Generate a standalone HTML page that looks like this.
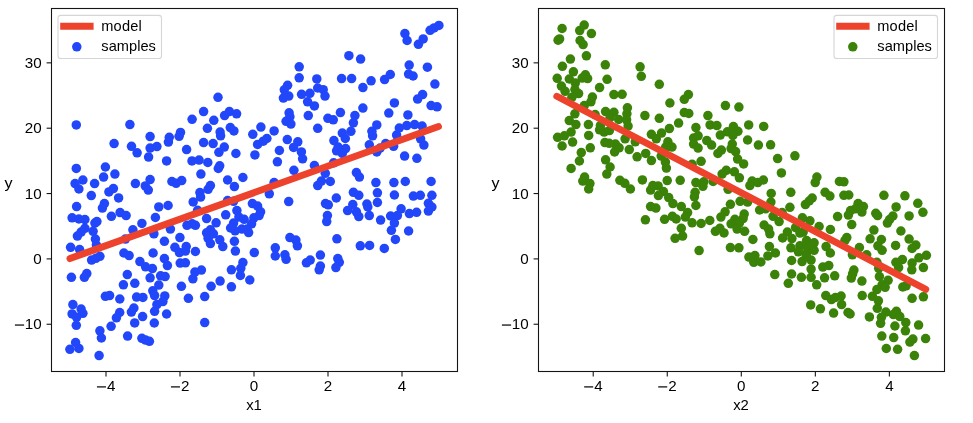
<!DOCTYPE html>
<html><head><meta charset="utf-8"><title>plot</title>
<style>html,body{margin:0;padding:0;background:#fff;overflow:hidden;}svg{display:block;will-change:transform;}text{font-family:"Liberation Sans",sans-serif;font-size:14.6px;fill:#000;}</style>
</head><body>
<svg width="973" height="423" viewBox="0 0 973 423">
<rect x="0" y="0" width="973" height="423" fill="#ffffff"/>
<clipPath id="cl"><rect x="51.5" y="8.5" width="406.0" height="363.0"/></clipPath>
<g clip-path="url(#cl)">
<g fill="#2247fa">
<circle cx="438.9" cy="25.4" r="4.75"/>
<circle cx="434.1" cy="27.9" r="4.75"/>
<circle cx="430.1" cy="30.3" r="4.75"/>
<circle cx="404.9" cy="33.6" r="4.75"/>
<circle cx="407.1" cy="40.5" r="4.75"/>
<circle cx="423.2" cy="38.9" r="4.75"/>
<circle cx="418.4" cy="44.3" r="4.75"/>
<circle cx="348.9" cy="55.7" r="4.75"/>
<circle cx="360.6" cy="59.1" r="4.75"/>
<circle cx="409.2" cy="65.1" r="4.75"/>
<circle cx="427.4" cy="67.2" r="4.75"/>
<circle cx="299.2" cy="66.8" r="4.75"/>
<circle cx="299.2" cy="77.8" r="4.75"/>
<circle cx="316.8" cy="78.9" r="4.75"/>
<circle cx="287.6" cy="85.3" r="4.75"/>
<circle cx="284.3" cy="89.8" r="4.75"/>
<circle cx="288.8" cy="96.1" r="4.75"/>
<circle cx="283.4" cy="98.1" r="4.75"/>
<circle cx="301.6" cy="94.3" r="4.75"/>
<circle cx="309.9" cy="93.3" r="4.75"/>
<circle cx="317.7" cy="88.0" r="4.75"/>
<circle cx="323.2" cy="89.7" r="4.75"/>
<circle cx="325.0" cy="96.1" r="4.75"/>
<circle cx="307.6" cy="101.8" r="4.75"/>
<circle cx="314.4" cy="105.9" r="4.75"/>
<circle cx="218.0" cy="97.3" r="4.75"/>
<circle cx="203.6" cy="111.6" r="4.75"/>
<circle cx="229.4" cy="111.6" r="4.75"/>
<circle cx="224.6" cy="115.6" r="4.75"/>
<circle cx="236.6" cy="113.8" r="4.75"/>
<circle cx="192.1" cy="119.3" r="4.75"/>
<circle cx="213.8" cy="120.3" r="4.75"/>
<circle cx="289.1" cy="112.8" r="4.75"/>
<circle cx="289.9" cy="116.8" r="4.75"/>
<circle cx="286.1" cy="121.3" r="4.75"/>
<circle cx="308.3" cy="115.6" r="4.75"/>
<circle cx="327.9" cy="118.3" r="4.75"/>
<circle cx="408.6" cy="74.1" r="4.75"/>
<circle cx="413.1" cy="76.0" r="4.75"/>
<circle cx="390.3" cy="74.5" r="4.75"/>
<circle cx="384.6" cy="79.6" r="4.75"/>
<circle cx="341.6" cy="78.6" r="4.75"/>
<circle cx="351.6" cy="78.6" r="4.75"/>
<circle cx="371.1" cy="80.8" r="4.75"/>
<circle cx="362.9" cy="87.6" r="4.75"/>
<circle cx="434.9" cy="84.1" r="4.75"/>
<circle cx="422.6" cy="94.6" r="4.75"/>
<circle cx="417.6" cy="99.1" r="4.75"/>
<circle cx="394.4" cy="102.9" r="4.75"/>
<circle cx="431.1" cy="105.6" r="4.75"/>
<circle cx="437.1" cy="106.8" r="4.75"/>
<circle cx="362.9" cy="108.1" r="4.75"/>
<circle cx="340.4" cy="112.6" r="4.75"/>
<circle cx="388.8" cy="113.1" r="4.75"/>
<circle cx="407.9" cy="114.9" r="4.75"/>
<circle cx="354.9" cy="115.6" r="4.75"/>
<circle cx="333.3" cy="119.8" r="4.75"/>
<circle cx="353.4" cy="122.8" r="4.75"/>
<circle cx="76.3" cy="124.9" r="4.75"/>
<circle cx="129.9" cy="124.6" r="4.75"/>
<circle cx="150.1" cy="136.6" r="4.75"/>
<circle cx="180.5" cy="132.4" r="4.75"/>
<circle cx="179.1" cy="136.3" r="4.75"/>
<circle cx="169.3" cy="137.3" r="4.75"/>
<circle cx="168.4" cy="142.1" r="4.75"/>
<circle cx="114.1" cy="143.6" r="4.75"/>
<circle cx="131.5" cy="146.3" r="4.75"/>
<circle cx="137.1" cy="152.8" r="4.75"/>
<circle cx="150.1" cy="148.1" r="4.75"/>
<circle cx="156.9" cy="146.6" r="4.75"/>
<circle cx="148.6" cy="157.1" r="4.75"/>
<circle cx="186.6" cy="149.6" r="4.75"/>
<circle cx="166.6" cy="160.9" r="4.75"/>
<circle cx="192.0" cy="160.9" r="4.75"/>
<circle cx="76.3" cy="168.4" r="4.75"/>
<circle cx="105.4" cy="167.0" r="4.75"/>
<circle cx="114.9" cy="174.1" r="4.75"/>
<circle cx="103.6" cy="177.1" r="4.75"/>
<circle cx="290.9" cy="124.1" r="4.75"/>
<circle cx="317.7" cy="128.3" r="4.75"/>
<circle cx="207.4" cy="128.3" r="4.75"/>
<circle cx="220.1" cy="132.1" r="4.75"/>
<circle cx="220.6" cy="135.8" r="4.75"/>
<circle cx="230.3" cy="127.6" r="4.75"/>
<circle cx="233.9" cy="130.9" r="4.75"/>
<circle cx="260.9" cy="127.1" r="4.75"/>
<circle cx="252.8" cy="134.3" r="4.75"/>
<circle cx="274.1" cy="130.9" r="4.75"/>
<circle cx="266.9" cy="138.5" r="4.75"/>
<circle cx="263.3" cy="141.2" r="4.75"/>
<circle cx="257.6" cy="144.4" r="4.75"/>
<circle cx="287.3" cy="139.6" r="4.75"/>
<circle cx="297.8" cy="141.8" r="4.75"/>
<circle cx="293.6" cy="147.4" r="4.75"/>
<circle cx="301.4" cy="151.9" r="4.75"/>
<circle cx="302.6" cy="158.8" r="4.75"/>
<circle cx="203.6" cy="142.6" r="4.75"/>
<circle cx="213.1" cy="143.6" r="4.75"/>
<circle cx="224.3" cy="147.1" r="4.75"/>
<circle cx="218.9" cy="152.3" r="4.75"/>
<circle cx="235.9" cy="153.5" r="4.75"/>
<circle cx="254.9" cy="154.9" r="4.75"/>
<circle cx="279.4" cy="150.5" r="4.75"/>
<circle cx="277.4" cy="161.8" r="4.75"/>
<circle cx="199.1" cy="160.1" r="4.75"/>
<circle cx="207.8" cy="162.5" r="4.75"/>
<circle cx="219.7" cy="165.8" r="4.75"/>
<circle cx="218.3" cy="168.5" r="4.75"/>
<circle cx="200.9" cy="174.1" r="4.75"/>
<circle cx="242.9" cy="177.5" r="4.75"/>
<circle cx="293.9" cy="170.3" r="4.75"/>
<circle cx="314.4" cy="165.5" r="4.75"/>
<circle cx="325.3" cy="173.3" r="4.75"/>
<circle cx="376.8" cy="124.9" r="4.75"/>
<circle cx="371.9" cy="131.3" r="4.75"/>
<circle cx="372.6" cy="135.8" r="4.75"/>
<circle cx="350.9" cy="131.3" r="4.75"/>
<circle cx="342.3" cy="133.1" r="4.75"/>
<circle cx="345.3" cy="138.5" r="4.75"/>
<circle cx="333.9" cy="140.6" r="4.75"/>
<circle cx="338.1" cy="147.1" r="4.75"/>
<circle cx="336.6" cy="150.8" r="4.75"/>
<circle cx="345.6" cy="148.6" r="4.75"/>
<circle cx="342.3" cy="153.5" r="4.75"/>
<circle cx="369.3" cy="144.8" r="4.75"/>
<circle cx="385.7" cy="143.6" r="4.75"/>
<circle cx="380.1" cy="148.1" r="4.75"/>
<circle cx="376.8" cy="152.0" r="4.75"/>
<circle cx="393.6" cy="146.3" r="4.75"/>
<circle cx="396.6" cy="135.1" r="4.75"/>
<circle cx="399.3" cy="128.0" r="4.75"/>
<circle cx="406.8" cy="125.6" r="4.75"/>
<circle cx="414.6" cy="124.6" r="4.75"/>
<circle cx="422.1" cy="126.1" r="4.75"/>
<circle cx="420.6" cy="138.8" r="4.75"/>
<circle cx="423.9" cy="145.1" r="4.75"/>
<circle cx="404.6" cy="156.1" r="4.75"/>
<circle cx="416.9" cy="158.3" r="4.75"/>
<circle cx="333.6" cy="162.8" r="4.75"/>
<circle cx="356.4" cy="172.6" r="4.75"/>
<circle cx="359.4" cy="177.1" r="4.75"/>
<circle cx="82.9" cy="180.0" r="4.75"/>
<circle cx="75.1" cy="183.6" r="4.75"/>
<circle cx="78.9" cy="189.0" r="4.75"/>
<circle cx="94.6" cy="183.6" r="4.75"/>
<circle cx="135.4" cy="183.6" r="4.75"/>
<circle cx="150.1" cy="179.6" r="4.75"/>
<circle cx="145.3" cy="185.9" r="4.75"/>
<circle cx="148.3" cy="190.1" r="4.75"/>
<circle cx="171.9" cy="181.5" r="4.75"/>
<circle cx="176.1" cy="183.3" r="4.75"/>
<circle cx="181.7" cy="180.6" r="4.75"/>
<circle cx="113.4" cy="188.6" r="4.75"/>
<circle cx="108.9" cy="191.9" r="4.75"/>
<circle cx="91.3" cy="195.6" r="4.75"/>
<circle cx="118.6" cy="197.9" r="4.75"/>
<circle cx="104.4" cy="203.6" r="4.75"/>
<circle cx="102.4" cy="208.1" r="4.75"/>
<circle cx="76.6" cy="206.6" r="4.75"/>
<circle cx="158.8" cy="206.9" r="4.75"/>
<circle cx="168.1" cy="205.5" r="4.75"/>
<circle cx="193.2" cy="201.9" r="4.75"/>
<circle cx="120.1" cy="212.6" r="4.75"/>
<circle cx="126.1" cy="215.6" r="4.75"/>
<circle cx="111.4" cy="216.3" r="4.75"/>
<circle cx="155.4" cy="217.5" r="4.75"/>
<circle cx="141.9" cy="223.4" r="4.75"/>
<circle cx="72.1" cy="217.8" r="4.75"/>
<circle cx="78.9" cy="219.0" r="4.75"/>
<circle cx="84.9" cy="219.6" r="4.75"/>
<circle cx="96.9" cy="221.6" r="4.75"/>
<circle cx="94.9" cy="223.1" r="4.75"/>
<circle cx="84.9" cy="228.3" r="4.75"/>
<circle cx="81.1" cy="232.1" r="4.75"/>
<circle cx="93.1" cy="231.3" r="4.75"/>
<circle cx="132.9" cy="229.8" r="4.75"/>
<circle cx="170.4" cy="229.1" r="4.75"/>
<circle cx="187.0" cy="225.3" r="4.75"/>
<circle cx="192.2" cy="223.8" r="4.75"/>
<circle cx="227.6" cy="180.0" r="4.75"/>
<circle cx="234.4" cy="186.6" r="4.75"/>
<circle cx="210.4" cy="185.6" r="4.75"/>
<circle cx="208.1" cy="189.3" r="4.75"/>
<circle cx="199.9" cy="192.6" r="4.75"/>
<circle cx="200.6" cy="197.1" r="4.75"/>
<circle cx="274.1" cy="182.6" r="4.75"/>
<circle cx="269.3" cy="193.8" r="4.75"/>
<circle cx="288.7" cy="201.6" r="4.75"/>
<circle cx="227.6" cy="200.6" r="4.75"/>
<circle cx="233.6" cy="201.3" r="4.75"/>
<circle cx="197.6" cy="210.3" r="4.75"/>
<circle cx="252.4" cy="203.6" r="4.75"/>
<circle cx="257.6" cy="206.1" r="4.75"/>
<circle cx="260.6" cy="211.8" r="4.75"/>
<circle cx="259.1" cy="215.6" r="4.75"/>
<circle cx="253.9" cy="217.8" r="4.75"/>
<circle cx="236.9" cy="210.6" r="4.75"/>
<circle cx="225.7" cy="214.8" r="4.75"/>
<circle cx="238.9" cy="217.1" r="4.75"/>
<circle cx="244.1" cy="219.3" r="4.75"/>
<circle cx="233.6" cy="223.1" r="4.75"/>
<circle cx="230.6" cy="228.0" r="4.75"/>
<circle cx="251.6" cy="223.8" r="4.75"/>
<circle cx="247.1" cy="229.1" r="4.75"/>
<circle cx="241.9" cy="229.1" r="4.75"/>
<circle cx="206.6" cy="218.6" r="4.75"/>
<circle cx="216.1" cy="222.8" r="4.75"/>
<circle cx="195.4" cy="225.3" r="4.75"/>
<circle cx="210.4" cy="229.8" r="4.75"/>
<circle cx="206.6" cy="232.8" r="4.75"/>
<circle cx="317.7" cy="185.6" r="4.75"/>
<circle cx="321.4" cy="181.1" r="4.75"/>
<circle cx="325.5" cy="203.6" r="4.75"/>
<circle cx="327.4" cy="215.6" r="4.75"/>
<circle cx="326.7" cy="221.6" r="4.75"/>
<circle cx="330.3" cy="181.5" r="4.75"/>
<circle cx="375.9" cy="182.6" r="4.75"/>
<circle cx="393.9" cy="182.6" r="4.75"/>
<circle cx="405.3" cy="181.5" r="4.75"/>
<circle cx="431.1" cy="181.5" r="4.75"/>
<circle cx="336.3" cy="198.0" r="4.75"/>
<circle cx="353.4" cy="192.3" r="4.75"/>
<circle cx="358.8" cy="195.3" r="4.75"/>
<circle cx="377.4" cy="192.8" r="4.75"/>
<circle cx="394.4" cy="195.0" r="4.75"/>
<circle cx="413.4" cy="196.1" r="4.75"/>
<circle cx="420.3" cy="195.3" r="4.75"/>
<circle cx="431.9" cy="195.3" r="4.75"/>
<circle cx="428.4" cy="203.3" r="4.75"/>
<circle cx="431.9" cy="207.0" r="4.75"/>
<circle cx="428.4" cy="211.1" r="4.75"/>
<circle cx="377.4" cy="202.5" r="4.75"/>
<circle cx="366.9" cy="204.0" r="4.75"/>
<circle cx="367.8" cy="207.0" r="4.75"/>
<circle cx="352.8" cy="204.6" r="4.75"/>
<circle cx="347.6" cy="210.6" r="4.75"/>
<circle cx="356.4" cy="211.8" r="4.75"/>
<circle cx="358.8" cy="216.6" r="4.75"/>
<circle cx="369.3" cy="215.6" r="4.75"/>
<circle cx="380.6" cy="220.1" r="4.75"/>
<circle cx="401.1" cy="208.8" r="4.75"/>
<circle cx="409.4" cy="213.6" r="4.75"/>
<circle cx="416.6" cy="212.3" r="4.75"/>
<circle cx="390.6" cy="216.0" r="4.75"/>
<circle cx="397.4" cy="215.6" r="4.75"/>
<circle cx="394.4" cy="223.1" r="4.75"/>
<circle cx="391.4" cy="230.3" r="4.75"/>
<circle cx="408.6" cy="231.0" r="4.75"/>
<circle cx="77.4" cy="236.1" r="4.75"/>
<circle cx="95.4" cy="239.1" r="4.75"/>
<circle cx="70.6" cy="247.3" r="4.75"/>
<circle cx="79.6" cy="249.6" r="4.75"/>
<circle cx="96.4" cy="245.1" r="4.75"/>
<circle cx="99.9" cy="256.3" r="4.75"/>
<circle cx="91.6" cy="260.1" r="4.75"/>
<circle cx="71.4" cy="277.3" r="4.75"/>
<circle cx="86.8" cy="273.6" r="4.75"/>
<circle cx="84.4" cy="277.3" r="4.75"/>
<circle cx="125.4" cy="239.1" r="4.75"/>
<circle cx="153.9" cy="233.8" r="4.75"/>
<circle cx="179.9" cy="237.6" r="4.75"/>
<circle cx="164.4" cy="241.3" r="4.75"/>
<circle cx="174.9" cy="247.3" r="4.75"/>
<circle cx="186.2" cy="246.6" r="4.75"/>
<circle cx="179.4" cy="252.6" r="4.75"/>
<circle cx="185.4" cy="251.1" r="4.75"/>
<circle cx="153.1" cy="253.0" r="4.75"/>
<circle cx="123.9" cy="253.0" r="4.75"/>
<circle cx="129.1" cy="255.6" r="4.75"/>
<circle cx="139.9" cy="261.6" r="4.75"/>
<circle cx="145.6" cy="266.8" r="4.75"/>
<circle cx="152.4" cy="268.6" r="4.75"/>
<circle cx="164.4" cy="258.6" r="4.75"/>
<circle cx="167.4" cy="265.6" r="4.75"/>
<circle cx="180.2" cy="263.1" r="4.75"/>
<circle cx="185.4" cy="262.8" r="4.75"/>
<circle cx="127.3" cy="274.6" r="4.75"/>
<circle cx="150.1" cy="277.8" r="4.75"/>
<circle cx="160.6" cy="275.8" r="4.75"/>
<circle cx="165.1" cy="276.6" r="4.75"/>
<circle cx="123.4" cy="284.8" r="4.75"/>
<circle cx="134.8" cy="283.3" r="4.75"/>
<circle cx="158.8" cy="285.1" r="4.75"/>
<circle cx="181.4" cy="286.3" r="4.75"/>
<circle cx="192.9" cy="278.8" r="4.75"/>
<circle cx="208.1" cy="238.3" r="4.75"/>
<circle cx="210.4" cy="243.6" r="4.75"/>
<circle cx="213.4" cy="233.8" r="4.75"/>
<circle cx="219.8" cy="239.8" r="4.75"/>
<circle cx="222.8" cy="246.6" r="4.75"/>
<circle cx="234.4" cy="241.3" r="4.75"/>
<circle cx="235.4" cy="251.1" r="4.75"/>
<circle cx="254.3" cy="252.6" r="4.75"/>
<circle cx="195.4" cy="251.5" r="4.75"/>
<circle cx="201.4" cy="270.1" r="4.75"/>
<circle cx="194.9" cy="272.1" r="4.75"/>
<circle cx="242.9" cy="262.6" r="4.75"/>
<circle cx="240.8" cy="268.3" r="4.75"/>
<circle cx="231.4" cy="269.8" r="4.75"/>
<circle cx="240.4" cy="275.5" r="4.75"/>
<circle cx="249.8" cy="280.0" r="4.75"/>
<circle cx="220.1" cy="281.1" r="4.75"/>
<circle cx="211.1" cy="286.3" r="4.75"/>
<circle cx="231.4" cy="286.8" r="4.75"/>
<circle cx="289.9" cy="237.6" r="4.75"/>
<circle cx="295.9" cy="240.1" r="4.75"/>
<circle cx="297.4" cy="245.8" r="4.75"/>
<circle cx="275.3" cy="247.8" r="4.75"/>
<circle cx="275.3" cy="256.0" r="4.75"/>
<circle cx="284.9" cy="254.8" r="4.75"/>
<circle cx="286.1" cy="259.3" r="4.75"/>
<circle cx="320.4" cy="255.1" r="4.75"/>
<circle cx="310.2" cy="260.1" r="4.75"/>
<circle cx="306.4" cy="262.8" r="4.75"/>
<circle cx="320.4" cy="266.1" r="4.75"/>
<circle cx="319.2" cy="269.8" r="4.75"/>
<circle cx="248.6" cy="232.6" r="4.75"/>
<circle cx="235.1" cy="230.8" r="4.75"/>
<circle cx="336.9" cy="238.8" r="4.75"/>
<circle cx="395.4" cy="239.4" r="4.75"/>
<circle cx="360.3" cy="245.8" r="4.75"/>
<circle cx="369.6" cy="245.4" r="4.75"/>
<circle cx="384.3" cy="248.4" r="4.75"/>
<circle cx="337.8" cy="258.6" r="4.75"/>
<circle cx="339.3" cy="262.3" r="4.75"/>
<circle cx="335.9" cy="267.6" r="4.75"/>
<circle cx="152.8" cy="290.8" r="4.75"/>
<circle cx="154.6" cy="295.6" r="4.75"/>
<circle cx="164.8" cy="295.9" r="4.75"/>
<circle cx="162.9" cy="301.6" r="4.75"/>
<circle cx="156.9" cy="304.6" r="4.75"/>
<circle cx="154.6" cy="311.3" r="4.75"/>
<circle cx="166.6" cy="314.0" r="4.75"/>
<circle cx="154.3" cy="323.0" r="4.75"/>
<circle cx="188.4" cy="298.3" r="4.75"/>
<circle cx="105.4" cy="296.3" r="4.75"/>
<circle cx="109.6" cy="295.6" r="4.75"/>
<circle cx="119.8" cy="299.0" r="4.75"/>
<circle cx="136.6" cy="297.1" r="4.75"/>
<circle cx="142.9" cy="297.4" r="4.75"/>
<circle cx="133.9" cy="308.0" r="4.75"/>
<circle cx="131.4" cy="312.1" r="4.75"/>
<circle cx="142.6" cy="316.6" r="4.75"/>
<circle cx="134.7" cy="322.9" r="4.75"/>
<circle cx="119.7" cy="312.5" r="4.75"/>
<circle cx="116.4" cy="317.8" r="4.75"/>
<circle cx="111.1" cy="326.3" r="4.75"/>
<circle cx="99.9" cy="330.8" r="4.75"/>
<circle cx="101.4" cy="338.0" r="4.75"/>
<circle cx="72.9" cy="304.6" r="4.75"/>
<circle cx="81.1" cy="309.1" r="4.75"/>
<circle cx="82.9" cy="313.3" r="4.75"/>
<circle cx="72.1" cy="313.9" r="4.75"/>
<circle cx="76.6" cy="317.3" r="4.75"/>
<circle cx="76.3" cy="325.3" r="4.75"/>
<circle cx="127.6" cy="336.1" r="4.75"/>
<circle cx="141.9" cy="338.3" r="4.75"/>
<circle cx="149.4" cy="341.3" r="4.75"/>
<circle cx="75.6" cy="342.5" r="4.75"/>
<circle cx="204.7" cy="296.6" r="4.75"/>
<circle cx="204.7" cy="322.6" r="4.75"/>
<circle cx="69.9" cy="349.3" r="4.75"/>
<circle cx="78.9" cy="348.4" r="4.75"/>
<circle cx="99.1" cy="355.6" r="4.75"/>
<circle cx="145.6" cy="340.1" r="4.75"/>
<circle cx="328.3" cy="204.8" r="4.75"/>
<circle cx="95.9" cy="258.3" r="4.75"/>
</g>
<line x1="69.95" y1="258.60" x2="438.50" y2="126.60" stroke="#ed432d" stroke-width="6.9" stroke-linecap="round"/>
</g>
<g stroke="#151515" stroke-width="1.1">
<line x1="106.00" y1="371.5" x2="106.00" y2="376.4"/>
<line x1="180.00" y1="371.5" x2="180.00" y2="376.4"/>
<line x1="254.00" y1="371.5" x2="254.00" y2="376.4"/>
<line x1="328.00" y1="371.5" x2="328.00" y2="376.4"/>
<line x1="402.00" y1="371.5" x2="402.00" y2="376.4"/>
<line x1="46.6" y1="324.25" x2="51.5" y2="324.25"/>
<line x1="46.6" y1="258.90" x2="51.5" y2="258.90"/>
<line x1="46.6" y1="193.55" x2="51.5" y2="193.55"/>
<line x1="46.6" y1="128.20" x2="51.5" y2="128.20"/>
<line x1="46.6" y1="62.85" x2="51.5" y2="62.85"/>
</g>
<rect x="51.5" y="8.5" width="406.0" height="363.0" fill="none" stroke="#151515" stroke-width="1.1"/>
<rect x="96.95" y="386.30" width="9.00" height="1.2" fill="#000"/>
<text transform="translate(107.00,391.30) scale(1.04,1)" text-anchor="start">4</text>
<rect x="170.95" y="386.30" width="9.00" height="1.2" fill="#000"/>
<text transform="translate(181.00,391.30) scale(1.04,1)" text-anchor="start">2</text>
<text transform="translate(254.00,391.30) scale(1.04,1)" text-anchor="middle">0</text>
<text transform="translate(328.00,391.30) scale(1.04,1)" text-anchor="middle">2</text>
<text transform="translate(402.00,391.30) scale(1.04,1)" text-anchor="middle">4</text>
<rect x="14.90" y="324.45" width="9.20" height="1.2" fill="#000"/>
<text transform="translate(41.70,329.45) scale(1.04,1)" text-anchor="end">10</text>
<text transform="translate(41.70,264.10) scale(1.04,1)" text-anchor="end">0</text>
<text transform="translate(41.70,198.75) scale(1.04,1)" text-anchor="end">10</text>
<text transform="translate(41.70,133.40) scale(1.04,1)" text-anchor="end">20</text>
<text transform="translate(41.70,68.05) scale(1.04,1)" text-anchor="end">30</text>
<rect x="58.0" y="15.4" width="103.5" height="43.1" rx="2.8" ry="2.8" fill="#fff" fill-opacity="0.8" stroke="#cccccc" stroke-opacity="0.8" stroke-width="1.1"/>
<line x1="60.2" y1="26.2" x2="93.6" y2="26.2" stroke="#ed432d" stroke-width="6.9"/>
<circle cx="76.8" cy="46.85" r="4.75" fill="#2247fa"/>
<text x="101.3" y="31.1" textLength="40.4" lengthAdjust="spacing">model</text>
<text x="101.3" y="50.9" textLength="54.6" lengthAdjust="spacing">samples</text>
<clipPath id="cr"><rect x="538.5" y="8.5" width="406.0" height="363.0"/></clipPath>
<g clip-path="url(#cr)">
<g fill="#3a8208">
<circle cx="562.1" cy="28.5" r="4.75"/>
<circle cx="559.6" cy="38.9" r="4.75"/>
<circle cx="558.1" cy="40.2" r="4.75"/>
<circle cx="584.2" cy="25.1" r="4.75"/>
<circle cx="579.7" cy="30.6" r="4.75"/>
<circle cx="591.4" cy="33.6" r="4.75"/>
<circle cx="580.1" cy="40.5" r="4.75"/>
<circle cx="583.1" cy="44.6" r="4.75"/>
<circle cx="586.4" cy="55.8" r="4.75"/>
<circle cx="570.4" cy="59.1" r="4.75"/>
<circle cx="562.4" cy="66.3" r="4.75"/>
<circle cx="605.3" cy="64.8" r="4.75"/>
<circle cx="640.1" cy="66.8" r="4.75"/>
<circle cx="573.4" cy="71.8" r="4.75"/>
<circle cx="557.2" cy="78.3" r="4.75"/>
<circle cx="569.3" cy="79.0" r="4.75"/>
<circle cx="585.4" cy="74.8" r="4.75"/>
<circle cx="587.6" cy="78.6" r="4.75"/>
<circle cx="582.2" cy="78.1" r="4.75"/>
<circle cx="607.1" cy="79.3" r="4.75"/>
<circle cx="641.3" cy="76.3" r="4.75"/>
<circle cx="659.3" cy="84.3" r="4.75"/>
<circle cx="599.6" cy="87.6" r="4.75"/>
<circle cx="561.4" cy="86.1" r="4.75"/>
<circle cx="565.1" cy="91.3" r="4.75"/>
<circle cx="575.3" cy="83.1" r="4.75"/>
<circle cx="574.9" cy="89.5" r="4.75"/>
<circle cx="578.6" cy="93.6" r="4.75"/>
<circle cx="571.9" cy="97.3" r="4.75"/>
<circle cx="613.9" cy="94.6" r="4.75"/>
<circle cx="622.1" cy="94.3" r="4.75"/>
<circle cx="592.4" cy="97.0" r="4.75"/>
<circle cx="590.9" cy="101.8" r="4.75"/>
<circle cx="584.3" cy="105.6" r="4.75"/>
<circle cx="669.9" cy="103.0" r="4.75"/>
<circle cx="574.9" cy="113.8" r="4.75"/>
<circle cx="569.3" cy="120.6" r="4.75"/>
<circle cx="595.1" cy="114.6" r="4.75"/>
<circle cx="605.6" cy="111.6" r="4.75"/>
<circle cx="613.9" cy="112.3" r="4.75"/>
<circle cx="610.1" cy="117.6" r="4.75"/>
<circle cx="618.7" cy="119.5" r="4.75"/>
<circle cx="627.4" cy="107.8" r="4.75"/>
<circle cx="626.9" cy="113.8" r="4.75"/>
<circle cx="626.6" cy="119.8" r="4.75"/>
<circle cx="644.9" cy="115.6" r="4.75"/>
<circle cx="659.3" cy="118.3" r="4.75"/>
<circle cx="688.4" cy="94.6" r="4.75"/>
<circle cx="684.3" cy="99.3" r="4.75"/>
<circle cx="725.4" cy="105.6" r="4.75"/>
<circle cx="738.9" cy="107.1" r="4.75"/>
<circle cx="684.3" cy="112.6" r="4.75"/>
<circle cx="688.8" cy="113.5" r="4.75"/>
<circle cx="707.9" cy="115.6" r="4.75"/>
<circle cx="678.6" cy="123.1" r="4.75"/>
<circle cx="575.9" cy="124.6" r="4.75"/>
<circle cx="588.4" cy="124.6" r="4.75"/>
<circle cx="571.1" cy="132.1" r="4.75"/>
<circle cx="557.6" cy="137.3" r="4.75"/>
<circle cx="564.4" cy="135.8" r="4.75"/>
<circle cx="572.6" cy="142.1" r="4.75"/>
<circle cx="562.1" cy="146.0" r="4.75"/>
<circle cx="588.7" cy="135.4" r="4.75"/>
<circle cx="590.3" cy="147.8" r="4.75"/>
<circle cx="581.3" cy="152.6" r="4.75"/>
<circle cx="579.4" cy="161.0" r="4.75"/>
<circle cx="571.1" cy="168.4" r="4.75"/>
<circle cx="584.6" cy="177.1" r="4.75"/>
<circle cx="599.6" cy="129.8" r="4.75"/>
<circle cx="604.1" cy="132.1" r="4.75"/>
<circle cx="609.4" cy="130.6" r="4.75"/>
<circle cx="600.4" cy="125.6" r="4.75"/>
<circle cx="628.1" cy="126.1" r="4.75"/>
<circle cx="625.1" cy="138.8" r="4.75"/>
<circle cx="604.9" cy="142.6" r="4.75"/>
<circle cx="615.4" cy="144.1" r="4.75"/>
<circle cx="619.1" cy="147.8" r="4.75"/>
<circle cx="614.6" cy="152.0" r="4.75"/>
<circle cx="629.3" cy="149.6" r="4.75"/>
<circle cx="635.3" cy="141.8" r="4.75"/>
<circle cx="637.1" cy="156.8" r="4.75"/>
<circle cx="645.7" cy="153.4" r="4.75"/>
<circle cx="651.4" cy="160.6" r="4.75"/>
<circle cx="605.6" cy="159.8" r="4.75"/>
<circle cx="610.1" cy="167.0" r="4.75"/>
<circle cx="606.8" cy="174.1" r="4.75"/>
<circle cx="651.4" cy="134.3" r="4.75"/>
<circle cx="656.3" cy="138.8" r="4.75"/>
<circle cx="661.5" cy="133.1" r="4.75"/>
<circle cx="669.4" cy="128.6" r="4.75"/>
<circle cx="667.9" cy="141.8" r="4.75"/>
<circle cx="672.0" cy="147.1" r="4.75"/>
<circle cx="665.7" cy="147.1" r="4.75"/>
<circle cx="661.2" cy="156.1" r="4.75"/>
<circle cx="665.4" cy="162.1" r="4.75"/>
<circle cx="666.4" cy="168.1" r="4.75"/>
<circle cx="710.1" cy="124.9" r="4.75"/>
<circle cx="716.9" cy="125.6" r="4.75"/>
<circle cx="733.4" cy="126.5" r="4.75"/>
<circle cx="748.7" cy="124.9" r="4.75"/>
<circle cx="763.7" cy="126.4" r="4.75"/>
<circle cx="695.9" cy="127.6" r="4.75"/>
<circle cx="737.9" cy="131.3" r="4.75"/>
<circle cx="727.4" cy="131.8" r="4.75"/>
<circle cx="732.9" cy="135.5" r="4.75"/>
<circle cx="720.3" cy="135.1" r="4.75"/>
<circle cx="693.6" cy="138.1" r="4.75"/>
<circle cx="698.1" cy="135.8" r="4.75"/>
<circle cx="693.6" cy="144.1" r="4.75"/>
<circle cx="698.1" cy="148.1" r="4.75"/>
<circle cx="706.8" cy="140.6" r="4.75"/>
<circle cx="711.6" cy="145.1" r="4.75"/>
<circle cx="721.4" cy="150.1" r="4.75"/>
<circle cx="717.9" cy="153.5" r="4.75"/>
<circle cx="732.3" cy="144.1" r="4.75"/>
<circle cx="731.1" cy="148.6" r="4.75"/>
<circle cx="735.6" cy="151.6" r="4.75"/>
<circle cx="737.6" cy="159.1" r="4.75"/>
<circle cx="743.6" cy="163.9" r="4.75"/>
<circle cx="747.6" cy="140.0" r="4.75"/>
<circle cx="758.4" cy="145.1" r="4.75"/>
<circle cx="770.6" cy="144.8" r="4.75"/>
<circle cx="777.6" cy="158.6" r="4.75"/>
<circle cx="794.9" cy="155.8" r="4.75"/>
<circle cx="781.4" cy="172.9" r="4.75"/>
<circle cx="701.1" cy="161.3" r="4.75"/>
<circle cx="692.1" cy="164.3" r="4.75"/>
<circle cx="726.3" cy="170.3" r="4.75"/>
<circle cx="722.1" cy="174.1" r="4.75"/>
<circle cx="734.4" cy="171.8" r="4.75"/>
<circle cx="739.4" cy="177.8" r="4.75"/>
<circle cx="816.9" cy="177.1" r="4.75"/>
<circle cx="619.9" cy="180.3" r="4.75"/>
<circle cx="624.8" cy="183.3" r="4.75"/>
<circle cx="630.4" cy="189.0" r="4.75"/>
<circle cx="642.4" cy="179.9" r="4.75"/>
<circle cx="667.2" cy="180.6" r="4.75"/>
<circle cx="680.2" cy="180.3" r="4.75"/>
<circle cx="582.8" cy="181.1" r="4.75"/>
<circle cx="589.9" cy="183.6" r="4.75"/>
<circle cx="588.7" cy="189.0" r="4.75"/>
<circle cx="652.9" cy="185.6" r="4.75"/>
<circle cx="658.1" cy="185.9" r="4.75"/>
<circle cx="650.6" cy="190.1" r="4.75"/>
<circle cx="663.4" cy="191.6" r="4.75"/>
<circle cx="658.4" cy="195.6" r="4.75"/>
<circle cx="668.7" cy="197.6" r="4.75"/>
<circle cx="672.9" cy="203.6" r="4.75"/>
<circle cx="650.6" cy="206.6" r="4.75"/>
<circle cx="655.9" cy="208.1" r="4.75"/>
<circle cx="645.4" cy="219.8" r="4.75"/>
<circle cx="664.6" cy="219.3" r="4.75"/>
<circle cx="672.4" cy="216.3" r="4.75"/>
<circle cx="676.2" cy="219.0" r="4.75"/>
<circle cx="695.9" cy="182.6" r="4.75"/>
<circle cx="703.8" cy="181.8" r="4.75"/>
<circle cx="702.9" cy="186.3" r="4.75"/>
<circle cx="713.1" cy="181.5" r="4.75"/>
<circle cx="752.1" cy="181.1" r="4.75"/>
<circle cx="749.9" cy="185.6" r="4.75"/>
<circle cx="757.8" cy="182.6" r="4.75"/>
<circle cx="763.4" cy="180.0" r="4.75"/>
<circle cx="695.1" cy="192.3" r="4.75"/>
<circle cx="694.4" cy="196.8" r="4.75"/>
<circle cx="695.9" cy="205.5" r="4.75"/>
<circle cx="728.1" cy="189.3" r="4.75"/>
<circle cx="771.2" cy="193.4" r="4.75"/>
<circle cx="790.8" cy="192.3" r="4.75"/>
<circle cx="770.9" cy="202.1" r="4.75"/>
<circle cx="789.9" cy="207.3" r="4.75"/>
<circle cx="812.2" cy="198.0" r="4.75"/>
<circle cx="805.4" cy="204.6" r="4.75"/>
<circle cx="815.2" cy="182.6" r="4.75"/>
<circle cx="740.1" cy="201.3" r="4.75"/>
<circle cx="747.6" cy="202.1" r="4.75"/>
<circle cx="730.4" cy="204.3" r="4.75"/>
<circle cx="725.1" cy="211.8" r="4.75"/>
<circle cx="720.9" cy="217.1" r="4.75"/>
<circle cx="744.2" cy="214.1" r="4.75"/>
<circle cx="743.1" cy="218.6" r="4.75"/>
<circle cx="734.9" cy="219.3" r="4.75"/>
<circle cx="731.1" cy="223.8" r="4.75"/>
<circle cx="739.4" cy="223.1" r="4.75"/>
<circle cx="759.6" cy="210.0" r="4.75"/>
<circle cx="765.6" cy="208.8" r="4.75"/>
<circle cx="773.1" cy="216.3" r="4.75"/>
<circle cx="779.1" cy="221.6" r="4.75"/>
<circle cx="782.1" cy="212.6" r="4.75"/>
<circle cx="681.3" cy="206.6" r="4.75"/>
<circle cx="687.6" cy="212.6" r="4.75"/>
<circle cx="685.4" cy="217.1" r="4.75"/>
<circle cx="692.1" cy="222.8" r="4.75"/>
<circle cx="701.1" cy="223.5" r="4.75"/>
<circle cx="709.8" cy="220.5" r="4.75"/>
<circle cx="681.3" cy="228.3" r="4.75"/>
<circle cx="719.9" cy="228.3" r="4.75"/>
<circle cx="715.4" cy="231.3" r="4.75"/>
<circle cx="724.0" cy="232.9" r="4.75"/>
<circle cx="737.1" cy="229.1" r="4.75"/>
<circle cx="744.6" cy="231.3" r="4.75"/>
<circle cx="764.1" cy="225.0" r="4.75"/>
<circle cx="768.6" cy="229.1" r="4.75"/>
<circle cx="802.4" cy="217.8" r="4.75"/>
<circle cx="809.9" cy="220.8" r="4.75"/>
<circle cx="795.6" cy="227.6" r="4.75"/>
<circle cx="787.4" cy="232.1" r="4.75"/>
<circle cx="803.2" cy="232.1" r="4.75"/>
<circle cx="839.4" cy="181.5" r="4.75"/>
<circle cx="843.9" cy="181.8" r="4.75"/>
<circle cx="825.1" cy="192.3" r="4.75"/>
<circle cx="829.9" cy="196.1" r="4.75"/>
<circle cx="843.9" cy="195.3" r="4.75"/>
<circle cx="848.8" cy="195.0" r="4.75"/>
<circle cx="883.9" cy="195.3" r="4.75"/>
<circle cx="904.9" cy="195.8" r="4.75"/>
<circle cx="917.8" cy="203.3" r="4.75"/>
<circle cx="896.1" cy="206.9" r="4.75"/>
<circle cx="922.9" cy="212.3" r="4.75"/>
<circle cx="909.1" cy="215.9" r="4.75"/>
<circle cx="858.1" cy="203.6" r="4.75"/>
<circle cx="863.4" cy="206.6" r="4.75"/>
<circle cx="861.9" cy="212.1" r="4.75"/>
<circle cx="850.6" cy="210.6" r="4.75"/>
<circle cx="848.4" cy="215.1" r="4.75"/>
<circle cx="855.4" cy="208.8" r="4.75"/>
<circle cx="837.6" cy="216.6" r="4.75"/>
<circle cx="851.7" cy="224.6" r="4.75"/>
<circle cx="875.8" cy="213.3" r="4.75"/>
<circle cx="877.6" cy="215.6" r="4.75"/>
<circle cx="892.9" cy="216.0" r="4.75"/>
<circle cx="889.6" cy="219.6" r="4.75"/>
<circle cx="887.4" cy="223.1" r="4.75"/>
<circle cx="873.9" cy="230.1" r="4.75"/>
<circle cx="900.9" cy="231.0" r="4.75"/>
<circle cx="819.1" cy="226.5" r="4.75"/>
<circle cx="830.4" cy="229.5" r="4.75"/>
<circle cx="682.6" cy="236.1" r="4.75"/>
<circle cx="675.1" cy="238.3" r="4.75"/>
<circle cx="699.1" cy="250.6" r="4.75"/>
<circle cx="730.4" cy="247.6" r="4.75"/>
<circle cx="738.9" cy="247.8" r="4.75"/>
<circle cx="752.9" cy="239.5" r="4.75"/>
<circle cx="748.9" cy="257.1" r="4.75"/>
<circle cx="754.9" cy="255.6" r="4.75"/>
<circle cx="753.8" cy="262.3" r="4.75"/>
<circle cx="760.9" cy="262.0" r="4.75"/>
<circle cx="769.4" cy="246.6" r="4.75"/>
<circle cx="775.4" cy="253.0" r="4.75"/>
<circle cx="767.9" cy="255.9" r="4.75"/>
<circle cx="769.9" cy="233.8" r="4.75"/>
<circle cx="782.6" cy="238.0" r="4.75"/>
<circle cx="791.9" cy="238.6" r="4.75"/>
<circle cx="790.9" cy="247.8" r="4.75"/>
<circle cx="791.6" cy="260.5" r="4.75"/>
<circle cx="774.8" cy="274.6" r="4.75"/>
<circle cx="791.6" cy="274.0" r="4.75"/>
<circle cx="788.3" cy="283.3" r="4.75"/>
<circle cx="801.4" cy="277.3" r="4.75"/>
<circle cx="811.1" cy="277.3" r="4.75"/>
<circle cx="816.7" cy="284.8" r="4.75"/>
<circle cx="824.6" cy="277.8" r="4.75"/>
<circle cx="834.7" cy="275.8" r="4.75"/>
<circle cx="822.8" cy="267.1" r="4.75"/>
<circle cx="828.8" cy="265.6" r="4.75"/>
<circle cx="811.1" cy="269.1" r="4.75"/>
<circle cx="802.1" cy="261.6" r="4.75"/>
<circle cx="811.1" cy="260.1" r="4.75"/>
<circle cx="799.9" cy="245.8" r="4.75"/>
<circle cx="798.4" cy="251.8" r="4.75"/>
<circle cx="806.6" cy="240.6" r="4.75"/>
<circle cx="814.1" cy="242.8" r="4.75"/>
<circle cx="814.1" cy="250.3" r="4.75"/>
<circle cx="806.6" cy="253.3" r="4.75"/>
<circle cx="826.1" cy="246.6" r="4.75"/>
<circle cx="830.3" cy="253.0" r="4.75"/>
<circle cx="799.9" cy="233.1" r="4.75"/>
<circle cx="846.8" cy="237.6" r="4.75"/>
<circle cx="844.9" cy="240.6" r="4.75"/>
<circle cx="859.4" cy="247.6" r="4.75"/>
<circle cx="852.4" cy="254.8" r="4.75"/>
<circle cx="866.7" cy="254.8" r="4.75"/>
<circle cx="870.1" cy="238.8" r="4.75"/>
<circle cx="877.9" cy="245.8" r="4.75"/>
<circle cx="853.9" cy="270.1" r="4.75"/>
<circle cx="851.3" cy="278.1" r="4.75"/>
<circle cx="861.9" cy="281.1" r="4.75"/>
<circle cx="878.7" cy="268.3" r="4.75"/>
<circle cx="879.4" cy="276.6" r="4.75"/>
<circle cx="881.4" cy="239.5" r="4.75"/>
<circle cx="882.1" cy="250.3" r="4.75"/>
<circle cx="895.6" cy="245.4" r="4.75"/>
<circle cx="909.1" cy="239.1" r="4.75"/>
<circle cx="915.9" cy="245.1" r="4.75"/>
<circle cx="912.1" cy="248.5" r="4.75"/>
<circle cx="926.4" cy="255.3" r="4.75"/>
<circle cx="918.9" cy="257.8" r="4.75"/>
<circle cx="923.4" cy="267.6" r="4.75"/>
<circle cx="912.1" cy="263.1" r="4.75"/>
<circle cx="911.8" cy="269.8" r="4.75"/>
<circle cx="902.4" cy="259.6" r="4.75"/>
<circle cx="895.9" cy="262.3" r="4.75"/>
<circle cx="898.6" cy="267.6" r="4.75"/>
<circle cx="876.9" cy="262.3" r="4.75"/>
<circle cx="888.1" cy="280.3" r="4.75"/>
<circle cx="882.1" cy="284.8" r="4.75"/>
<circle cx="902.8" cy="287.0" r="4.75"/>
<circle cx="825.8" cy="295.6" r="4.75"/>
<circle cx="831.4" cy="299.6" r="4.75"/>
<circle cx="835.4" cy="297.5" r="4.75"/>
<circle cx="841.1" cy="296.0" r="4.75"/>
<circle cx="841.6" cy="304.6" r="4.75"/>
<circle cx="810.7" cy="304.9" r="4.75"/>
<circle cx="820.4" cy="308.8" r="4.75"/>
<circle cx="833.6" cy="313.1" r="4.75"/>
<circle cx="848.0" cy="312.5" r="4.75"/>
<circle cx="850.1" cy="314.0" r="4.75"/>
<circle cx="862.2" cy="295.6" r="4.75"/>
<circle cx="869.4" cy="316.9" r="4.75"/>
<circle cx="876.9" cy="289.6" r="4.75"/>
<circle cx="885.1" cy="287.3" r="4.75"/>
<circle cx="872.4" cy="296.3" r="4.75"/>
<circle cx="878.4" cy="300.8" r="4.75"/>
<circle cx="877.3" cy="308.3" r="4.75"/>
<circle cx="906.1" cy="285.8" r="4.75"/>
<circle cx="912.1" cy="298.3" r="4.75"/>
<circle cx="923.4" cy="296.8" r="4.75"/>
<circle cx="885.9" cy="312.1" r="4.75"/>
<circle cx="881.4" cy="317.3" r="4.75"/>
<circle cx="880.6" cy="323.3" r="4.75"/>
<circle cx="896.4" cy="311.3" r="4.75"/>
<circle cx="893.4" cy="314.6" r="4.75"/>
<circle cx="899.8" cy="316.6" r="4.75"/>
<circle cx="905.8" cy="322.6" r="4.75"/>
<circle cx="894.9" cy="326.0" r="4.75"/>
<circle cx="905.4" cy="330.8" r="4.75"/>
<circle cx="918.6" cy="325.1" r="4.75"/>
<circle cx="881.8" cy="336.1" r="4.75"/>
<circle cx="893.7" cy="337.6" r="4.75"/>
<circle cx="912.9" cy="339.1" r="4.75"/>
<circle cx="909.9" cy="342.1" r="4.75"/>
<circle cx="925.6" cy="338.6" r="4.75"/>
<circle cx="886.3" cy="348.5" r="4.75"/>
<circle cx="897.6" cy="349.3" r="4.75"/>
<circle cx="914.4" cy="355.6" r="4.75"/>
<circle cx="609.2" cy="143.3" r="4.75"/>
<circle cx="809.2" cy="201.0" r="4.75"/>
<circle cx="806.7" cy="246.4" r="4.75"/>
<circle cx="806.3" cy="256.6" r="4.75"/>
<circle cx="852.6" cy="273.9" r="4.75"/>
</g>
<line x1="556.80" y1="96.30" x2="925.75" y2="289.30" stroke="#ed432d" stroke-width="6.9" stroke-linecap="round"/>
</g>
<g stroke="#151515" stroke-width="1.1">
<line x1="593.22" y1="371.5" x2="593.22" y2="376.4"/>
<line x1="667.26" y1="371.5" x2="667.26" y2="376.4"/>
<line x1="741.30" y1="371.5" x2="741.30" y2="376.4"/>
<line x1="815.34" y1="371.5" x2="815.34" y2="376.4"/>
<line x1="889.38" y1="371.5" x2="889.38" y2="376.4"/>
<line x1="533.6" y1="324.25" x2="538.5" y2="324.25"/>
<line x1="533.6" y1="258.90" x2="538.5" y2="258.90"/>
<line x1="533.6" y1="193.55" x2="538.5" y2="193.55"/>
<line x1="533.6" y1="128.20" x2="538.5" y2="128.20"/>
<line x1="533.6" y1="62.85" x2="538.5" y2="62.85"/>
</g>
<rect x="538.5" y="8.5" width="406.0" height="363.0" fill="none" stroke="#151515" stroke-width="1.1"/>
<rect x="584.17" y="386.30" width="9.00" height="1.2" fill="#000"/>
<text transform="translate(594.22,391.30) scale(1.04,1)" text-anchor="start">4</text>
<rect x="658.21" y="386.30" width="9.00" height="1.2" fill="#000"/>
<text transform="translate(668.26,391.30) scale(1.04,1)" text-anchor="start">2</text>
<text transform="translate(741.30,391.30) scale(1.04,1)" text-anchor="middle">0</text>
<text transform="translate(815.34,391.30) scale(1.04,1)" text-anchor="middle">2</text>
<text transform="translate(889.38,391.30) scale(1.04,1)" text-anchor="middle">4</text>
<rect x="501.90" y="324.45" width="9.20" height="1.2" fill="#000"/>
<text transform="translate(528.70,329.45) scale(1.04,1)" text-anchor="end">10</text>
<text transform="translate(528.70,264.10) scale(1.04,1)" text-anchor="end">0</text>
<text transform="translate(528.70,198.75) scale(1.04,1)" text-anchor="end">10</text>
<text transform="translate(528.70,133.40) scale(1.04,1)" text-anchor="end">20</text>
<text transform="translate(528.70,68.05) scale(1.04,1)" text-anchor="end">30</text>
<rect x="834.0" y="15.4" width="103.5" height="43.1" rx="2.8" ry="2.8" fill="#fff" fill-opacity="0.8" stroke="#cccccc" stroke-opacity="0.8" stroke-width="1.1"/>
<line x1="836.2" y1="26.2" x2="869.6" y2="26.2" stroke="#ed432d" stroke-width="6.9"/>
<circle cx="852.8" cy="46.85" r="4.75" fill="#3a8208"/>
<text x="877.3" y="31.1" textLength="40.4" lengthAdjust="spacing">model</text>
<text x="877.3" y="50.9" textLength="54.6" lengthAdjust="spacing">samples</text>
<text transform="translate(254.00,409.70) scale(1.02,1)" text-anchor="middle">x1</text>
<text transform="translate(741.00,409.70) scale(1.02,1)" text-anchor="middle">x2</text>
<text transform="translate(8.40,187.50) scale(1.1,1)" text-anchor="middle">y</text>
<text transform="translate(495.40,187.50) scale(1.1,1)" text-anchor="middle">y</text>
</svg></body></html>
